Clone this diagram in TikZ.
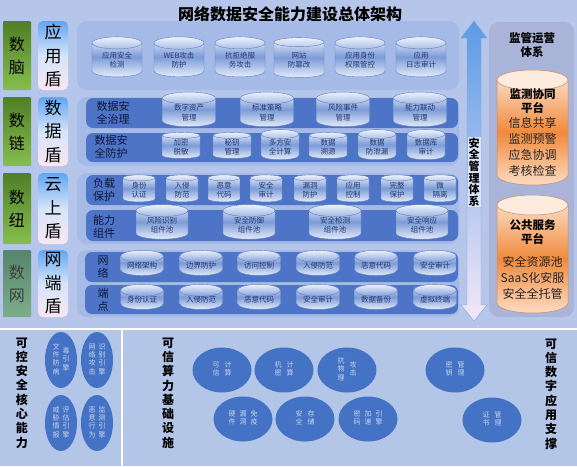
\documentclass[tikz,border=0pt]{standalone}
\usepackage{fontspec}
\setmainfont{Noto Sans CJK SC}
\usetikzlibrary{shapes.geometric}
\definecolor{pagebg}{HTML}{B6C6EA}
\definecolor{lowbg}{HTML}{B3C6E7}
\definecolor{panelbg}{HTML}{A6BAE8}
\definecolor{rowblue}{HTML}{4D74C6}
\definecolor{rowtext}{HTML}{0E1838}
\definecolor{cylline}{HTML}{5F7FBF}
\definecolor{cyltop}{HTML}{EEF3FB}
\definecolor{cylmid}{HTML}{7C9BD8}
\definecolor{cylbot}{HTML}{E4ECF9}
\definecolor{cyltext}{HTML}{243A6E}
\definecolor{greentop}{HTML}{4F7F26}
\definecolor{greenbot}{HTML}{86BE4E}
\definecolor{graytop}{HTML}{55856A}
\definecolor{graybot}{HTML}{7DAE8C}
\definecolor{duntop}{HTML}{62A5F2}
\definecolor{dunmid}{HTML}{D5E5FA}
\definecolor{dunbot}{HTML}{FAE6F2}
\definecolor{sidebg}{HTML}{A9B4D8}
\definecolor{orangetop}{HTML}{FBD9BF}
\definecolor{orangemid}{HTML}{F08A3C}
\definecolor{orangebot}{HTML}{FCDCC4}
\definecolor{orangecap}{HTML}{FDEBDD}
\definecolor{orangeline}{HTML}{C98A62}
\definecolor{arrowtop}{HTML}{5A9BE6}
\definecolor{arrowbot}{HTML}{F4E8F8}
\definecolor{arrowline}{HTML}{7FA6DE}
\definecolor{labelbg}{HTML}{D9E6F8}
\definecolor{blob}{HTML}{4472C4}
\definecolor{blobtext}{HTML}{CBD5EC}
\newcommand{\vchars}[1]{\begin{tabular}{@{}c@{}}#1\end{tabular}}

\begin{document}
\begin{tikzpicture}[x=1pt, y=-1pt,
  every node/.style={inner sep=0pt, align=center},
  tier/.style={rounded corners=1pt, shading=axis, top color=greentop, bottom color=greenbot,
    minimum width=28pt, minimum height=69pt, font=\fontsize{16}{23}\selectfont},
  dun/.style={rounded corners=5pt, shading=axis, top color=duntop, bottom color=dunbot, middle color=dunmid,
    minimum width=30pt, minimum height=69pt, font=\fontsize{17}{23.5}\selectfont},
  panel/.style={rounded corners=10pt, fill=panelbg},
  rowbar/.style={rounded corners=7pt, fill=rowblue},
  rowlabel/.style={font=\fontsize{11}{13.5}\selectfont, text=rowtext},
  cyl/.style={cylinder, shape border rotate=90, aspect=0.4, draw=cylline, line width=0.4pt,
    shading=axis, top color=cyltop, bottom color=cylbot, middle color=cylmid,
    text=cyltext, font=\fontsize{7.5}{9.5}\selectfont},
  cylA/.style={cyl, minimum width=50pt, minimum height=40pt},
  cylB/.style={cyl, minimum width=53pt, minimum height=25pt},
  cylC/.style={cyl, minimum width=38pt, minimum height=26pt},
  cylD/.style={cyl, minimum width=32pt, minimum height=27pt},
  cylE/.style={cyl, minimum width=52pt, minimum height=26pt},
  cylF/.style={cyl, minimum width=43pt, minimum height=24pt},
  obody/.style={shading=axis, top color=orangetop, bottom color=orangebot, middle color=orangemid,
    draw=orangeline, line width=0.5pt},
  ocap/.style={fill=orangecap, draw=orangeline, line width=0.5pt},
  headtext/.style={font=\bfseries\fontsize{11.5}{14}\selectfont},
  listtext/.style={font=\fontsize{12}{15.8}\selectfont, text=black!85},
  blobS/.style={ellipse, fill=blob, minimum width=32pt, minimum height=56pt,
    text=blobtext, font=\fontsize{7}{8.3}\selectfont},
  blobL/.style={ellipse, fill=blob, minimum width=59pt, minimum height=45pt,
    text=blobtext, font=\fontsize{7}{8.3}\selectfont},
  vtitle/.style={font=\bfseries\fontsize{12}{14.3}\selectfont}]

\useasboundingbox (0,0) rectangle (577,466);

% Backgrounds
\fill[pagebg] (0,0) rectangle (577,329);
\fill[lowbg] (0,329) rectangle (577,466);
\draw[white, line width=2.5pt] (0,329) -- (577,329);
\draw[white, line width=1.5pt] (122,330) -- (122,466);

% Title
\node (title) at (290,14) {\bfseries\fontsize{16}{18}\selectfont 网络数据安全能力建设总体架构};

% Left tiers
\node[tier] (shunao) at (17,55.5) {数\\脑};
\node[tier] (shulian) at (17,131.5) {数\\链};
\node[tier, minimum height=71pt] (shuniu) at (17,208.5) {数\\纽};
\node[tier, top color=graytop, bottom color=graybot, minimum height=67pt, text=black!75] (shuwang) at (17,283.5) {数\\网};

% Shields
\node[dun] (yingyong) at (53,55.5) {应\\用\\盾};
\node[dun] (shuju) at (53,131.5) {数\\据\\盾};
\node[dun, minimum height=71pt] (yunshang) at (53,208.5) {云\\上\\盾};
\node[dun, minimum height=67pt] (wangduan) at (53,283.5) {网\\端\\盾};

% Panels and bars
\fill[panel] (77,21) rectangle (459,90);
\fill[panel] (77,97) rectangle (459,166);
\fill[panel] (77,173) rectangle (459,244);
\fill[panel] (77,250) rectangle (459,317);
\fill[rowbar] (86,98) rectangle (458,128);
\fill[rowbar] (86,133) rectangle (458,162);
\fill[rowbar] (86,175) rectangle (458,205);
\fill[rowbar] (86,210) rectangle (458,241);
\fill[rowbar] (85,252) rectangle (458,282);
\fill[rowbar] (85,285) rectangle (458,314);

% 应用盾
\node[cylA] (yy1) at (117,60) {应用安全\\检测};
\node[cylA] (yy2) at (179,60) {WEB攻击\\防护};
\node[cylA] (yy3) at (240,60) {抗拒绝服\\务攻击};
\node[cylA] (yy4) at (299,60) {网站\\防篡改};
\node[cylA] (yy5) at (360,60) {应用身份\\权限管控};
\node[cylA] (yy6) at (421,60) {应用\\日志审计};

% 数据盾
\node[rowlabel] (zhili) at (113,113) {数据安\\全治理};
\node[cylB] (zl1) at (189,112.5) {数字资产\\管理};
\node[cylB] (zl2) at (267,112.5) {标准策略\\管理};
\node[cylB] (zl3) at (343,112.5) {风险事件\\管理};
\node[cylB] (zl4) at (420,112.5) {能力联动\\管理};
\node[rowlabel] (fanghu) at (111,147) {数据安\\全防护};
\node[cylC] (fh1) at (181,147) {加密\\脱敏};
\node[cylC] (fh2) at (232,147) {秘钥\\管理};
\node[cylC] (fh3) at (280,147) {多方安\\全计算};
\node[cylC] (fh4) at (328,147) {数据\\溯源};
\node[cylC] (fh5) at (377,147) {数据\\防泄漏};
\node[cylC] (fh6) at (426,147) {数据库\\审计};

% 云上盾
\node[rowlabel] (fuzai) at (104,190) {负载\\保护};
\node[cylD] (fz1) at (139,190) {身份\\认证};
\node[cylD] (fz2) at (182,190) {入侵\\防范};
\node[cylD] (fz3) at (224,190) {恶意\\代码};
\node[cylD] (fz4) at (266,190) {安全\\审计};
\node[cylD] (fz5) at (310,190) {漏洞\\防护};
\node[cylD] (fz6) at (353,190) {应用\\控制};
\node[cylD] (fz7) at (397,190) {完整\\保护};
\node[cylD] (fz8) at (440,190) {微\\隔离};
\node[rowlabel] (zujian) at (104,227) {能力\\组件};
\node[cylE] (zj1) at (162,225) {风险识别\\组件池};
\node[cylE] (zj2) at (249,225) {安全防御\\组件池};
\node[cylE] (zj3) at (335,225) {安全检测\\组件池};
\node[cylE] (zj4) at (422,225) {安全响应\\组件池};

% 网端盾
\node[rowlabel] (wangluo) at (103,267) {网\\络};
\node[cylF] (wl1) at (142,266) {网络架构};
\node[cylF] (wl2) at (201,266) {边界防护};
\node[cylF] (wl3) at (259,266) {访问控制};
\node[cylF] (wl4) at (318,266) {入侵防范};
\node[cylF] (wl5) at (376,266) {恶意代码};
\node[cylF] (wl6) at (435,266) {安全审计};
\node[rowlabel] (duandian) at (103,300) {端\\点};
\node[cylF] (dd1) at (142,300) {身份认证};
\node[cylF] (dd2) at (201,300) {入侵防范};
\node[cylF] (dd3) at (259,300) {恶意代码};
\node[cylF] (dd4) at (318,300) {安全审计};
\node[cylF] (dd5) at (376,300) {数据备份};
\node[cylF] (dd6) at (435,300) {虚拟终端};

% Management arrow
\shadedraw[shading=axis, top color=arrowtop, bottom color=arrowbot, draw=arrowline, line width=0.4pt]
  (474,21) -- (487,38) -- (481,38) -- (481,305) -- (487,305) -- (474,321)
  -- (461,305) -- (467,305) -- (467,38) -- (461,38) -- cycle;
\node[font=\bfseries\fontsize{11}{11.6}\selectfont, fill=labelbg, inner sep=1pt] (anquan) at (474,172) {安\\全\\管\\理\\体\\系};

% Supervision side
\fill[sidebg, rounded corners=10pt] (489,22) rectangle (574,317);
\node[headtext] (jianguan) at (532,45) {监管运营\\体系};
% monitoring platform
\shadedraw[obody] (497,80) -- (497,175) arc[start angle=180, end angle=0, x radius=35.5, y radius=10]
  -- (568,80) -- cycle;
\filldraw[ocap] (532.5,80) ellipse [x radius=35.5, y radius=10];
% public service platform
\shadedraw[obody] (497,205) -- (497,303) arc[start angle=180, end angle=0, x radius=35.5, y radius=10]
  -- (568,205) -- cycle;
\filldraw[ocap] (532.5,205) ellipse [x radius=35.5, y radius=10];
\node[headtext] (jcname) at (532.5,101) {监测协同\\平台};
\node[listtext] (jclist) at (532.5,147) {信息共享\\监测预警\\应急协调\\考核检查};
\node[headtext] (ggname) at (532.5,232) {公共服务\\平台};
\node[listtext] (gglist) at (532.5,278) {安全资源池\\SaaS化安服\\安全全托管};

% Bottom: core capability
\node[vtitle] (kekong) at (22,393) {可\\控\\安\\全\\核\\心\\能\\力};
\node[blobS] (bd1) at (61,360) {\vchars{文\\件\\防\\病}\hspace{3pt}\vchars{毒\\引\\擎}};
\node[blobS] (bd2) at (97,360) {\vchars{网\\络\\攻\\击}\hspace{3pt}\vchars{识\\别\\引\\擎}};
\node[blobS] (bd3) at (61,423) {\vchars{威\\胁\\情\\报}\hspace{3pt}\vchars{评\\估\\引\\擎}};
\node[blobS] (bd4) at (97,423) {\vchars{恶\\意\\行\\为}\hspace{3pt}\vchars{监\\测\\引\\擎}};

% Bottom: trusted computing
\node[vtitle] (kexin) at (168,393) {可\\信\\算\\力\\基\\础\\设\\施};
\node[blobL] (js1) at (222,370) {\vchars{可\\信}\hspace{5pt}\vchars{计\\算}};
\node[blobL] (js2) at (284,370) {\vchars{机\\密}\hspace{5pt}\vchars{计\\算}};
\node[blobL] (js3) at (347,370) {\vchars{抗\\物\\理}\hspace{5pt}\vchars{攻\\击}};
\node[blobL] (js4) at (243,419) {\vchars{硬\\件}\hspace{4pt}\vchars{漏\\洞}\hspace{4pt}\vchars{免\\疫}};
\node[blobL] (js5) at (305,419) {\vchars{安\\全}\hspace{5pt}\vchars{存\\储}};
\node[blobL] (js6) at (368,419) {\vchars{密\\码}\hspace{4pt}\vchars{加\\速}\hspace{4pt}\vchars{引\\擎}};

% Bottom: digital application
\node[blobL] (yy7) at (455,370) {\vchars{密\\钥}\hspace{5pt}\vchars{管\\理}};
\node[blobL] (yy8) at (492,420) {\vchars{证\\书}\hspace{5pt}\vchars{管\\理}};
\node[vtitle] (shuzi) at (551,394) {可\\信\\数\\字\\应\\用\\支\\撑};

\end{tikzpicture}
\end{document}
